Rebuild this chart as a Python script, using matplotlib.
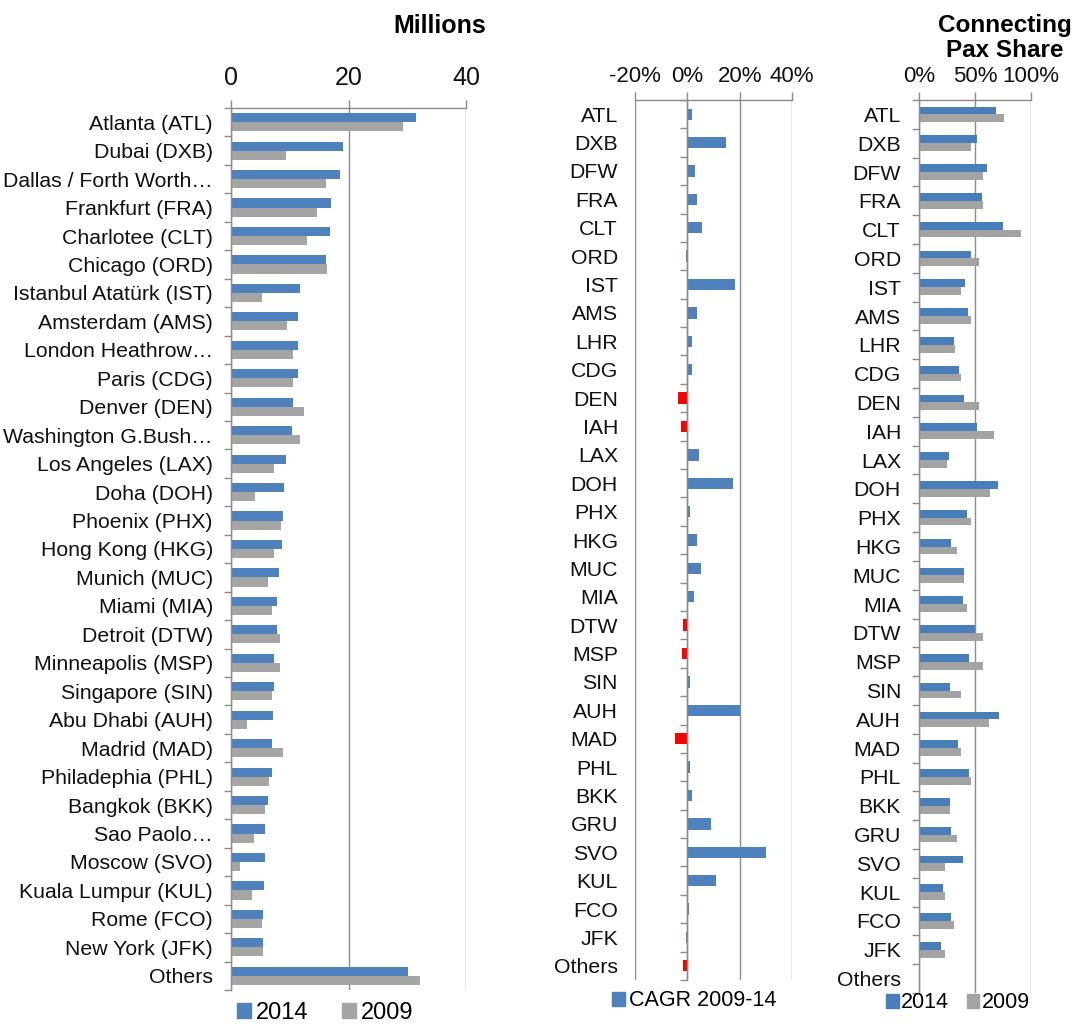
import numpy as np
import matplotlib
matplotlib.use("Agg")
import matplotlib.pyplot as plt
from matplotlib.patches import Patch
from matplotlib.ticker import FuncFormatter

plt.rcParams['font.family'] = ['Liberation Sans', 'DejaVu Sans']
plt.rcParams['axes.unicode_minus'] = False

# ---------------- data ----------------
airports = ["Atlanta (ATL)", "Dubai (DXB)", "Dallas / Forth Worth\u2026", "Frankfurt (FRA)",
            "Charlotee (CLT)", "Chicago (ORD)", "Istanbul Atat\u00fcrk (IST)", "Amsterdam (AMS)",
            "London Heathrow\u2026", "Paris (CDG)", "Denver (DEN)", "Washington G.Bush\u2026",
            "Los Angeles (LAX)", "Doha (DOH)", "Phoenix (PHX)", "Hong Kong (HKG)",
            "Munich (MUC)", "Miami (MIA)", "Detroit (DTW)", "Minneapolis (MSP)",
            "Singapore (SIN)", "Abu Dhabi (AUH)", "Madrid (MAD)", "Philadephia (PHL)",
            "Bangkok (BKK)", "Sao Paolo\u2026", "Moscow (SVO)", "Kuala Lumpur (KUL)",
            "Rome (FCO)", "New York (JFK)", "Others"]
codes = ["ATL", "DXB", "DFW", "FRA", "CLT", "ORD", "IST", "AMS", "LHR", "CDG", "DEN", "IAH",
         "LAX", "DOH", "PHX", "HKG", "MUC", "MIA", "DTW", "MSP", "SIN", "AUH", "MAD", "PHL",
         "BKK", "GRU", "SVO", "KUL", "FCO", "JFK", "Others"]
pax_2014 = [31.5, 19.0, 18.6, 17.0, 16.8, 16.2, 11.8, 11.4, 11.4, 11.4, 10.5, 10.3, 9.4, 9.1,
            8.9, 8.7, 8.1, 7.8, 7.8, 7.4, 7.4, 7.2, 7.0, 7.0, 6.3, 5.8, 5.8, 5.6, 5.5, 5.5, 30.1]
pax_2009 = [29.2, 9.4, 16.2, 14.6, 12.9, 16.4, 5.2, 9.6, 10.5, 10.5, 12.5, 11.8, 7.4, 4.1,
            8.5, 7.4, 6.3, 7.0, 8.3, 8.3, 7.0, 2.8, 8.9, 6.5, 5.8, 3.9, 1.5, 3.5, 5.2, 5.5, 32.1]
cagr = [1.6, 14.9, 3.0, 3.6, 5.6, -0.4, 18.3, 3.6, 1.6, 1.6, -3.4, -2.5, 4.6, 17.3, 1.1, 3.6,
        5.1, 2.5, -1.5, -2.0, 1.1, 20.1, -4.8, 1.1, 1.6, 9.0, 30.1, 11.1, 0.6, -0.5, -1.5]
conn_2014 = [68.8, 51.8, 61.0, 56.3, 74.7, 46.1, 41.4, 43.5, 31.0, 35.7, 39.9, 51.8, 26.8, 70.2,
             42.9, 28.9, 40.2, 39.6, 50.3, 44.9, 27.7, 71.7, 34.5, 44.9, 27.4, 28.9, 39.3, 21.4,
             28.6, 19.6, np.nan]
conn_2009 = [75.6, 46.4, 57.4, 57.4, 91.1, 53.9, 37.8, 46.1, 32.1, 37.5, 53.9, 66.7, 25.3, 63.1,
             46.4, 33.6, 40.2, 42.9, 57.1, 56.8, 37.5, 62.5, 37.5, 46.7, 27.4, 33.6, 23.2, 23.2,
             31.0, 23.2, np.nan]

BLUE = "#4F81BD"
GRAY = "#A5A5A5"
RED = "#FF0000"
GC = "#8C8C8C"

W, H = 1076, 1025
fig = plt.figure(figsize=(W / 100, H / 100), dpi=100)


def rect(x0, x1, ytop, ybot):
    return [x0 / W, 1 - ybot / H, (x1 - x0) / W, (ybot - ytop) / H]


ax1 = fig.add_axes(rect(231, 466, 108, 990))
ax2 = fig.add_axes(rect(635, 792, 100, 980))
ax3 = fig.add_axes(rect(919, 1031, 100, 993))
ax2.spines['left'].set_position(('data', 0))


def style(ax, labels, ypad, xpad, xsize):
    n = len(labels)
    y = np.arange(n)
    ax.set_ylim(n - 0.5, -0.5)
    ax.set_yticks(y)
    ax.set_yticklabels(labels, fontsize=15.3, color="#111111")
    ax.set_yticks(np.arange(n + 1) - 0.5, minor=True)
    ax.tick_params(axis='y', which='major', length=0, pad=ypad)
    ax.tick_params(axis='y', which='minor', length=5, width=1, color=GC, direction='out')
    ax.xaxis.tick_top()
    ax.tick_params(axis='x', which='major', length=6, width=1, color=GC,
                   labelsize=xsize, pad=xpad, labelcolor="#111111")
    for s in ['right', 'bottom']:
        ax.spines[s].set_visible(False)
    for s in ['top', 'left']:
        ax.spines[s].set_color(GC)
        ax.spines[s].set_linewidth(1)
    ax.grid(axis='x', color=GC, lw=1)
    ax.set_axisbelow(True)
    return y


# ---- left panel: passengers (millions)
y = style(ax1, airports, 13, 7, 18)
ax1.barh(y - 0.16, pax_2014, height=0.32, color=BLUE)
ax1.barh(y + 0.16, pax_2009, height=0.32, color=GRAY)
ax1.set_xlim(0, 40)
ax1.set_xticks([0, 20, 40])
ax1.legend([Patch(color=BLUE), Patch(color=GRAY)], ["2014", "2009"], loc='center',
           bbox_to_anchor=(325 / W, 1 - 1013 / H), bbox_transform=fig.transFigure, ncol=2,
           frameon=False, fontsize=17, handlelength=0.6, handleheight=0.6,
           handletextpad=0.2, columnspacing=1.4)

# ---- middle panel: CAGR
y = style(ax2, codes, 50, 3, 16)
cols = [RED if v < -1 else BLUE for v in cagr]
ax2.barh(y, cagr, height=0.4, color=cols)
ax2.set_xlim(-20, 40)
ax2.set_xticks([-20, 0, 20, 40])
ax2.xaxis.set_major_formatter(FuncFormatter(lambda v, p: f"{v:.0f}%"))
ax2.legend([Patch(color=BLUE)], ["CAGR 2009-14"], loc='center',
           bbox_to_anchor=(694 / W, 1 - 1001 / H), bbox_transform=fig.transFigure,
           frameon=False, fontsize=15.5, handlelength=0.6, handleheight=0.6,
           handletextpad=0.2)

# ---- right panel: connecting pax share
y = style(ax3, codes, 13, 3, 16)
ax3.barh(y - 0.135, conn_2014, height=0.27, color="#4A7EBB")
ax3.barh(y + 0.135, conn_2009, height=0.27, color="#A3A3A3")
ax3.set_xlim(0, 100)
ax3.set_xticks([0, 50, 100])
ax3.xaxis.set_major_formatter(FuncFormatter(lambda v, p: f"{v:.0f}%"))
ax3.legend([Patch(color="#4A7EBB"), Patch(color="#A3A3A3")], ["2014", "2009"], loc='center',
           bbox_to_anchor=(958 / W, 1 - 1003 / H), bbox_transform=fig.transFigure, ncol=2,
           frameon=False, fontsize=15.5, handlelength=0.6, handleheight=0.6,
           handletextpad=0.1, columnspacing=0.8)

# ---- titles
fig.text(440 / W, 1 - 26 / H, "Millions", ha='center', va='center',
         fontsize=18, fontweight='bold')
fig.text(1005 / W, 1 - 38 / H, "Connecting\nPax Share", ha='center', va='center',
         fontsize=17.5, fontweight='bold', linespacing=1.15)

fig.savefig("out.png", dpi=100)
